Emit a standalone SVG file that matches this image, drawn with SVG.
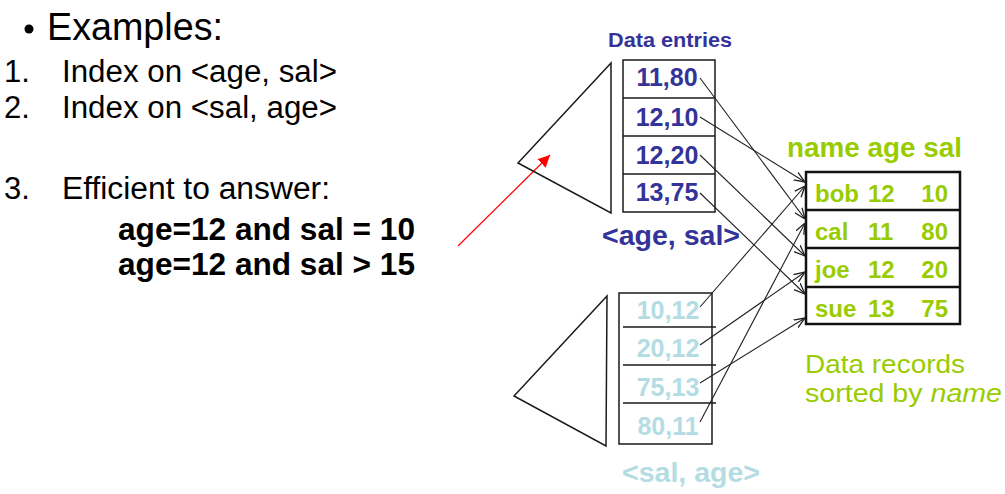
<svg xmlns="http://www.w3.org/2000/svg" width="1005" height="494" viewBox="0 0 1005 494">
<style>
text{font-family:"Liberation Sans",Arial,sans-serif}
.blk{fill:#000}
.b{font-weight:bold}
.dk{fill:#333399}
.lt{fill:#B3DCE3}
.gr{fill:#99CC00}
.shape{fill:none;stroke:#1a1a1a;stroke-width:1.5}
.conn{stroke:#222;stroke-width:1.1;fill:none;marker-end:url(#open)}
</style>
<defs>
<marker id="open" viewBox="0 0 10 10" refX="10" refY="5" markerWidth="11" markerHeight="11" orient="auto" markerUnits="userSpaceOnUse">
<path d="M0,1 L10,5 L0,9" fill="none" stroke="#222" stroke-width="1.2"/>
</marker>
<marker id="red" viewBox="0 0 10 10" refX="10" refY="5" markerWidth="12" markerHeight="12" orient="auto" markerUnits="userSpaceOnUse">
<path d="M0,0 L10,5 L0,10 Z" fill="#FF0000"/>
</marker>
</defs>
<rect width="1005" height="494" fill="#fff"/>

<g id="text-left">
<circle cx="29" cy="29" r="4.5" fill="#000"/>
<text x="47" y="40" font-size="38" class="blk" textLength="176" lengthAdjust="spacingAndGlyphs">Examples:</text>
<text x="4" y="82" font-size="31" class="blk">1.</text>
<text x="62" y="82" font-size="31" class="blk" textLength="275" lengthAdjust="spacingAndGlyphs">Index on &lt;age, sal&gt;</text>
<text x="4" y="118" font-size="31" class="blk">2.</text>
<text x="62" y="118" font-size="31" class="blk" textLength="275" lengthAdjust="spacingAndGlyphs">Index on &lt;sal, age&gt;</text>
<text x="4" y="199" font-size="31" class="blk">3.</text>
<text x="62" y="199" font-size="31" class="blk" textLength="268" lengthAdjust="spacingAndGlyphs">Efficient to answer:</text>
<text x="118" y="240" font-size="31" class="blk b" textLength="297" lengthAdjust="spacingAndGlyphs">age=12 and sal = 10</text>
<text x="118" y="275" font-size="31" class="blk b" textLength="297" lengthAdjust="spacingAndGlyphs">age=12 and sal &gt; 15</text>
</g>

<g id="red-arrow">
<line x1="458" y1="246" x2="550" y2="155" stroke="#FF0000" stroke-width="1.2" marker-end="url(#red)"/>
</g>

<g id="index-age-sal">
<text x="608" y="47" font-size="20" class="dk b" textLength="124" lengthAdjust="spacingAndGlyphs">Data entries</text>
<polygon class="shape" points="611,63 518,163 611,213"/>
<rect class="shape" x="623" y="60" width="92" height="152"/>
<line class="shape" x1="623" y1="98" x2="715" y2="98"/>
<line class="shape" x1="623" y1="136" x2="715" y2="136"/>
<line class="shape" x1="623" y1="174" x2="715" y2="174"/>
<text x="667" y="86" font-size="25" class="dk b" text-anchor="middle">11,80</text>
<text x="667" y="126" font-size="25" class="dk b" text-anchor="middle">12,10</text>
<text x="667" y="164" font-size="25" class="dk b" text-anchor="middle">12,20</text>
<text x="667" y="201" font-size="25" class="dk b" text-anchor="middle">13,75</text>
<text x="602" y="245" font-size="28" class="dk b" textLength="138" lengthAdjust="spacingAndGlyphs">&lt;age, sal&gt;</text>
</g>

<g id="index-sal-age">
<polygon class="shape" points="607,296 514,396 606,446"/>
<rect class="shape" x="619" y="293" width="93" height="151"/>
<line class="shape" x1="623" y1="327" x2="716" y2="327"/>
<line class="shape" x1="623" y1="365" x2="716" y2="365"/>
<line class="shape" x1="623" y1="403" x2="716" y2="403"/>
<text x="668" y="319" font-size="25" class="lt b" text-anchor="middle">10,12</text>
<text x="668" y="357" font-size="25" class="lt b" text-anchor="middle">20,12</text>
<text x="668" y="396" font-size="25" class="lt b" text-anchor="middle">75,13</text>
<text x="668" y="435" font-size="25" class="lt b" text-anchor="middle">80,11</text>
<text x="622" y="482" font-size="28" class="lt b" textLength="138" lengthAdjust="spacingAndGlyphs">&lt;sal, age&gt;</text>
</g>

<g id="data-records">
<text x="787" y="157" font-size="27" class="gr b" textLength="175" lengthAdjust="spacingAndGlyphs">name age sal</text>
<rect x="806" y="172" width="154" height="152" fill="none" stroke="#111" stroke-width="2.5"/>
<line x1="806" y1="210" x2="960" y2="210" stroke="#111" stroke-width="2.5"/>
<line x1="806" y1="248" x2="960" y2="248" stroke="#111" stroke-width="2.5"/>
<line x1="806" y1="287" x2="960" y2="287" stroke="#111" stroke-width="2.5"/>
<text x="815" y="202" font-size="24" class="gr b">bob</text>
<text x="868" y="202" font-size="24" class="gr b">12</text>
<text x="948" y="202" font-size="24" class="gr b" text-anchor="end">10</text>
<text x="815" y="240" font-size="24" class="gr b">cal</text>
<text x="868" y="240" font-size="24" class="gr b">11</text>
<text x="948" y="240" font-size="24" class="gr b" text-anchor="end">80</text>
<text x="815" y="278" font-size="24" class="gr b">joe</text>
<text x="868" y="278" font-size="24" class="gr b">12</text>
<text x="948" y="278" font-size="24" class="gr b" text-anchor="end">20</text>
<text x="815" y="317" font-size="24" class="gr b">sue</text>
<text x="868" y="317" font-size="24" class="gr b">13</text>
<text x="948" y="317" font-size="24" class="gr b" text-anchor="end">75</text>
<text x="805" y="373" font-size="26" class="gr" textLength="160" lengthAdjust="spacingAndGlyphs">Data records</text>
<text x="805" y="402" font-size="26" class="gr" textLength="197" lengthAdjust="spacingAndGlyphs">sorted by <tspan font-style="italic">name</tspan></text>
</g>

<g id="connectors">
<line class="conn" x1="700" y1="78" x2="805" y2="219"/>
<line class="conn" x1="700" y1="117" x2="805" y2="182"/>
<line class="conn" x1="700" y1="155" x2="805" y2="256"/>
<line class="conn" x1="700" y1="193" x2="805" y2="294"/>
<line class="conn" x1="700" y1="307" x2="805" y2="186"/>
<line class="conn" x1="700" y1="345" x2="805" y2="272"/>
<line class="conn" x1="700" y1="383" x2="805" y2="318"/>
<line class="conn" x1="700" y1="422" x2="805" y2="223"/>
</g>
</svg>
